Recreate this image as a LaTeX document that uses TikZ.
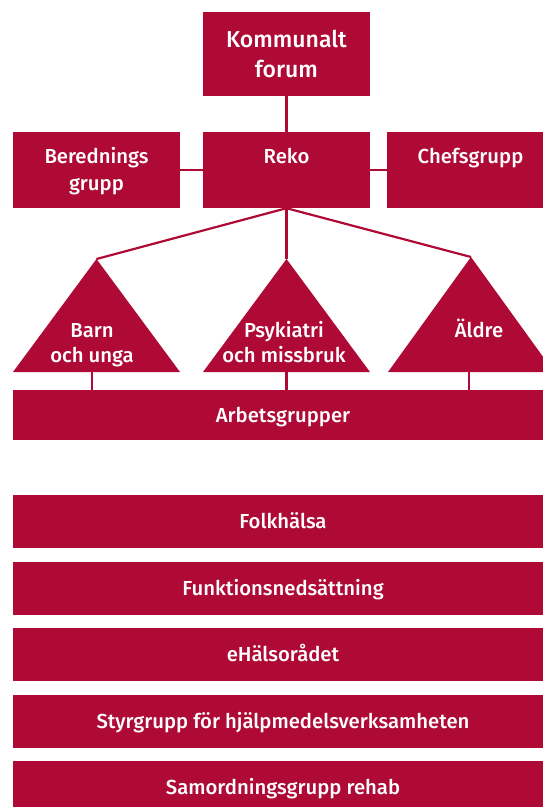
\documentclass[tikz,border=0pt]{standalone}
\usepackage{fontspec}
\setmainfont{Fira Sans}[UprightFont={* Medium}]
\definecolor{crim}{RGB}{174,10,53}
\begin{document}
\begin{tikzpicture}[x=1pt,y=-1pt,
  txt/.style={text=white, align=center, font=\fontsize{20.3}{25}\selectfont, text height=14pt},
  box/.style={txt, fill=crim, inner sep=0pt, minimum width=167pt, minimum height=76pt},
  bar/.style={txt, fill=crim, inner sep=0pt, minimum width=540pt, text depth=0pt},
  link/.style={draw=crim, line width=2.2pt},
  tri/.style={fill=crim}]
\useasboundingbox (0,0) rectangle (543,807);
\clip (0,0) rectangle (543,807);

% top boxes
\node[box, minimum height=84pt, font=\fontsize{23}{30}\selectfont, text height=46pt, text depth=0pt] (komm) at (286.5,54) {Kommunalt\\forum};
\node[box, text depth=27pt] (reko) at (286.5,170) {Reko};
\node[box, font=\fontsize{20.3}{27}\selectfont, text height=41pt, text depth=0pt] (bered) at (96.5,170) {Berednings\\grupp};
\node[box, text depth=27pt] (chef) at (470.5,170) {Chefsgrupp};

% triangles
\coordinate (aL) at (96.5,259);
\coordinate (aM) at (286.5,259);
\coordinate (aR) at (471,257);
\fill[tri] (aL) -- (180,372) -- (13,372) -- cycle;
\fill[tri] (aM) -- (370,372) -- (203,372) -- cycle;
\fill[tri] (aR) -- (554,372) -- (388,372) -- cycle;
\node[txt, text height=39pt, text depth=0pt] (barn) at (92,342.5) {Barn\\och unga};
\node[txt, text height=39pt, text depth=0pt] (psyk) at (284,342.5) {Psykiatri\\och missbruk};
\node[txt, text depth=25pt] (aldre) at (479,342.5) {Äldre};

% bars
\node[bar, minimum height=50pt] (arb) at (283,415) {Arbetsgrupper};
\node[bar, minimum height=53pt] (folk) at (283,521.5) {Folkhälsa};
\node[bar, minimum height=53pt] (funk) at (283,588) {Funktionsnedsättning};
\node[bar, minimum height=53pt] (ehal) at (283,654.5) {eHälsorådet};
\node[bar, minimum height=53pt] (styr) at (283,721) {Styrgrupp för hjälpmedelsverksamheten};
\node[bar, minimum height=53pt] (samo) at (283,787.5) {Samordningsgrupp rehab};

% connectors
\draw[link] (komm.south) -- (reko.north);
\draw[link] (bered.east) -- (reko.west);
\draw[link] (reko.east) -- (chef.west);
\draw[link] (reko.south) -- (aL);
\draw[link] (reko.south) -- (aM);
\draw[link] (reko.south) -- (aR);
\coordinate (bL) at (91.7,372);
\coordinate (bM) at (286.5,372);
\coordinate (bR) at (468.7,372);
\draw[link] (bL) -- (bL |- arb.north);
\draw[link] (bM) -- (bM |- arb.north);
\draw[link] (bR) -- (bR |- arb.north);
\end{tikzpicture}
\end{document}
